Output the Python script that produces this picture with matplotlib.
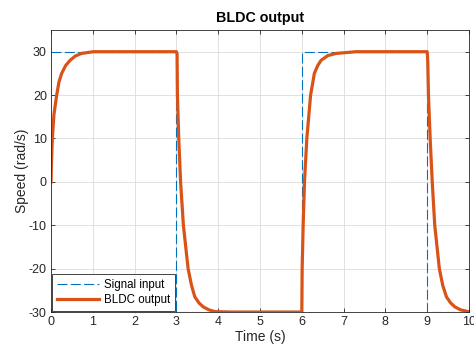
import matplotlib
matplotlib.use('Agg')
import matplotlib.pyplot as plt

plt.rcParams['font.family'] = ['Liberation Sans', 'DejaVu Sans']
plt.rcParams['axes.unicode_minus'] = False

# square-wave reference signal
sig_t = [0, 3, 3, 6, 6, 9, 9, 10]
sig_v = [30, 30, -30, -30, 30, 30, -30, -30]

# motor speed
out_t = [0, 0.01, 0.032, 0.07, 0.136, 0.19, 0.255, 0.35, 0.455, 0.58, 0.73, 1.01,
         3.0, 3.016, 3.024, 3.056, 3.10, 3.167, 3.28, 3.36, 3.44, 3.54, 3.64, 3.78, 3.92, 4.3,
         6.0, 6.004, 6.008, 6.032, 6.064, 6.12, 6.21, 6.30, 6.38, 6.46, 6.62, 6.82, 7.3,
         9.0, 9.012, 9.03, 9.07, 9.12, 9.18, 9.29, 9.37, 9.46, 9.56, 9.66, 9.8, 9.98, 10]
out_v = [0, 4, 10, 15.5, 20, 23, 25, 26.8, 28, 29, 29.6, 30,
         30, 29.5, 20, 10, 0, -10, -20, -23.8, -26.5, -27.9, -28.8, -29.5, -29.9, -30,
         -30, -25, -20, -10, 0, 10, 20, 25, 26.8, 28, 29.1, 29.6, 30,
         30, 28, 20, 10, 0, -10, -20, -23.8, -26.5, -27.9, -28.8, -29.5, -29.9, -30]

fig = plt.figure(figsize=(4.74, 3.51), dpi=100)
ax = fig.add_axes([0.1076, 0.111, 0.8819, 0.8035])

ax.plot(sig_t, sig_v, color='#0072BD', lw=0.8, linestyle=(0, (9, 3)), label='Signal input')
ax.plot(out_t, out_v, color='#D95319', lw=2.3, label='BLDC output')

ax.set_xlim(0, 10)
ax.set_ylim(-30, 35)
ax.set_xticks(range(0, 11))
ax.set_yticks(range(-30, 31, 10))
ax.grid(True, color='#dcdcdc', lw=0.6)
ax.set_axisbelow(True)
ax.tick_params(direction='in', top=True, right=True, length=3, width=0.6,
               colors='#262626', labelsize=9, pad=3)
for s in ax.spines.values():
    s.set_color('#262626')
    s.set_linewidth(0.6)

ax.set_title('BLDC output', fontsize=10.3, fontweight='bold', color='black', pad=6)
ax.set_xlabel('Time (s)', fontsize=10, color='#262626', labelpad=1)
ax.set_ylabel('Speed (rad/s)', fontsize=10, color='#262626', labelpad=0)

leg = ax.legend(loc='lower left', fontsize=8.3, fancybox=False, framealpha=1,
                edgecolor='#262626', borderaxespad=0.1, handlelength=3.6,
                borderpad=0.45, labelspacing=0.25, handletextpad=0.45)
leg.get_frame().set_linewidth(0.6)

fig.savefig('out.png', dpi=100)
